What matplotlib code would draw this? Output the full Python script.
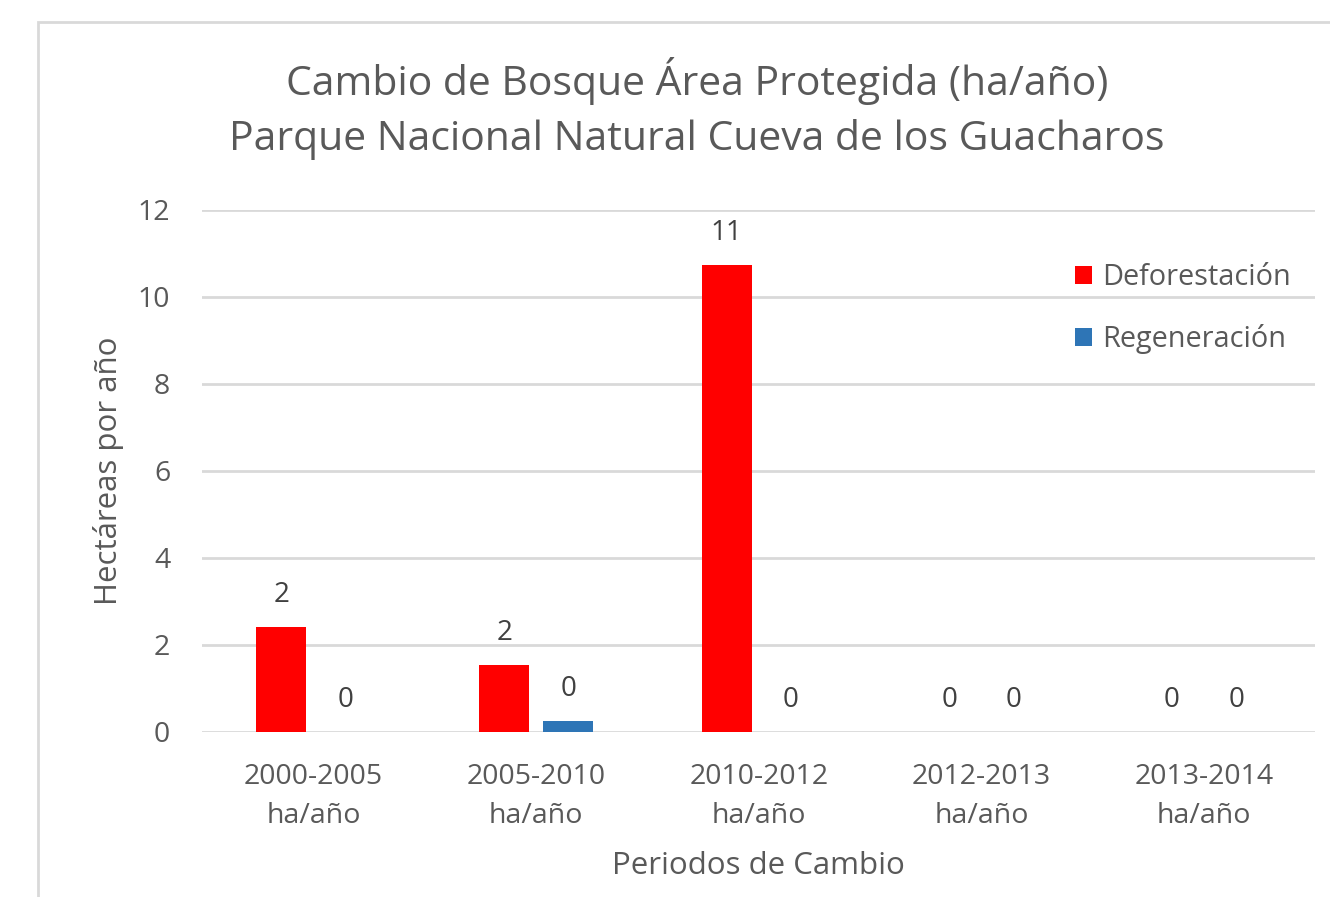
import numpy as np
import matplotlib.pyplot as plt
from matplotlib.patches import Rectangle

plt.rcParams['font.family'] = ['Open Sans', 'DejaVu Sans']

# Datos
periodos = ['2000-2005\nha/año', '2005-2010\nha/año', '2010-2012\nha/año',
            '2012-2013\nha/año', '2013-2014\nha/año']
deforestacion = [2.42, 1.55, 10.74, 0, 0]
regeneracion = [0, 0.25, 0, 0, 0]

ROJO = '#FF0000'
AZUL = '#2E75B6'
GRIS_TXT = '#595959'
GRIS_LIN = '#D9D9D9'

fig = plt.figure(figsize=(13.3, 8.97), dpi=100)
ax = fig.add_axes([0.152, 0.184, 0.837, 0.582])

# marco del gráfico
fig.patches.append(Rectangle((38 / 1330, -0.1), 1.2, 1.1 - 22 / 897,
                             transform=fig.transFigure, fill=False,
                             edgecolor=GRIS_LIN, linewidth=2))

x = np.arange(len(periodos))
ancho = 0.225
off = 0.144
b1 = ax.bar(x - off, deforestacion, ancho, color=ROJO, label='Deforestación', zorder=3)
b2 = ax.bar(x + off, regeneracion, ancho, color=AZUL, label='Regeneración', zorder=3)

for barras in (b1, b2):
    for b in barras:
        h = b.get_height()
        ax.annotate(f'{h:.0f}', (b.get_x() + b.get_width() / 2, h),
                    xytext=(0, 23), textcoords='offset points',
                    ha='center', va='center', fontsize=20, color='#404040')

ax.set_xlim(-0.5, 4.5)
ax.set_ylim(0, 12)
ax.set_yticks(range(0, 13, 2))
ax.set_xticks(x)
ax.set_xticklabels(periodos, fontsize=20.5, color=GRIS_TXT, linespacing=1.55)
ax.tick_params(axis='y', labelsize=20.5, labelcolor=GRIS_TXT, length=0, pad=23)
ax.tick_params(axis='x', length=0, pad=22)
ax.grid(axis='y', color=GRIS_LIN, linewidth=2, zorder=0)
for s in ax.spines.values():
    s.set_visible(False)

ax.set_ylabel('Hectáreas por año', fontsize=22.5, color=GRIS_TXT)
ax.yaxis.set_label_coords((108 - 202) / 1113, 0.5)
ax.set_xlabel('Periodos de Cambio', fontsize=22.5, color=GRIS_TXT)
ax.xaxis.set_label_coords(0.5, -(866 - 732) / 522)
ax.xaxis.label.set_va('center')
ax.yaxis.label.set_va('center')

fig.text(0.524, 1 - 108.5 / 897,
         'Cambio de Bosque Área Protegida (ha/año)\nParque Nacional Natural Cueva de los Guacharos',
         ha='center', va='center', fontsize=29.4, color=GRIS_TXT, linespacing=1.45)

leg = ax.legend(loc='upper left', bbox_to_anchor=(0.784, 0.898), frameon=False,
                fontsize=20.8, labelcolor=GRIS_TXT, handlelength=0.6, handleheight=0.6,
                handletextpad=0.35, labelspacing=1.1, borderpad=0, borderaxespad=0)

fig.savefig('out.png', dpi=100)
